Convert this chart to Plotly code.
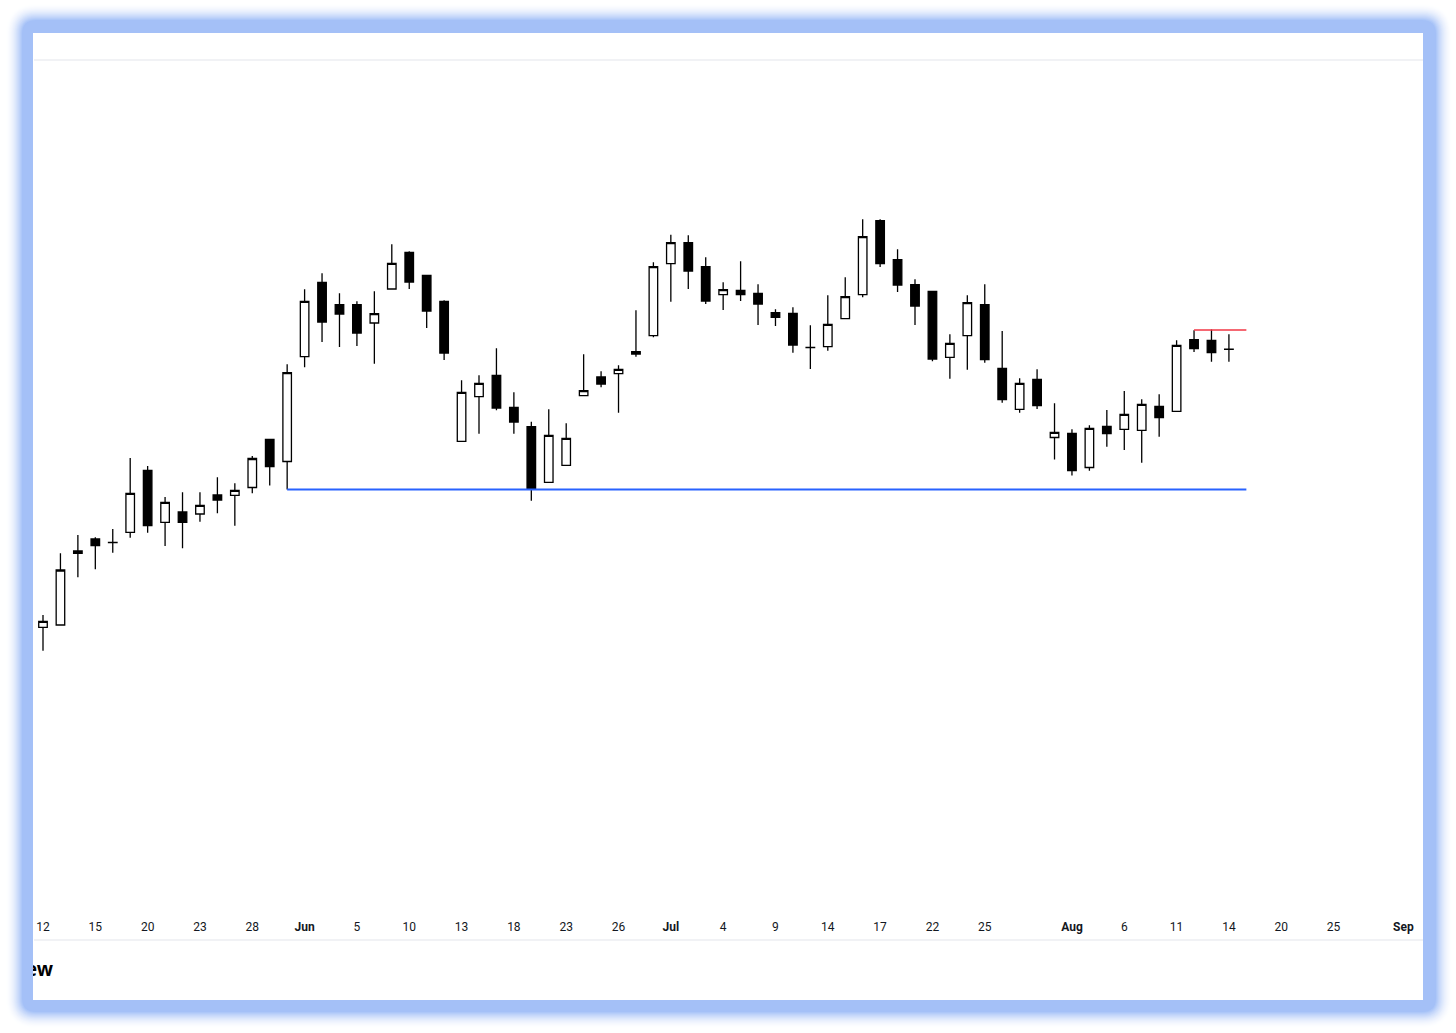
import plotly.graph_objects as go

W, H = 1456, 1033

# ---------------- data ----------------
opens = [37.27, 37.50, 44.67, 46.10, 45.73, 46.77, 52.97, 47.77, 48.80, 48.60,
         50.50, 50.47, 51.25, 56.07, 53.85, 64.33, 71.77, 69.53, 69.53, 67.70,
         71.10, 74.77, 72.47, 69.87, 55.87, 60.33, 62.47, 59.27, 57.33, 51.77,
         53.47, 60.43, 62.30, 62.63, 64.83, 66.43, 73.63, 75.73, 73.33, 70.53,
         70.97, 70.67, 68.73, 68.67, 65.23, 65.33, 68.13, 70.53, 77.93, 74.03,
         71.53, 70.87, 64.27, 66.43, 69.53, 63.17, 59.07, 62.07, 56.25, 56.67,
         53.25, 57.37, 57.07, 56.97, 59.37, 58.87, 66.03, 65.97, 65.07]
highs = [38.50, 44.67, 46.50, 46.27, 47.10, 54.20, 53.40, 50.30, 50.77, 50.77,
         52.27, 51.67, 54.40, 56.10, 63.57, 71.07, 72.67, 70.67, 69.87, 70.87,
         75.57, 74.87, 72.47, 69.97, 61.97, 62.47, 65.17, 60.77, 57.83, 59.07,
         57.67, 64.57, 62.87, 63.47, 68.97, 73.77, 76.53, 76.47, 74.27, 71.77,
         73.87, 71.57, 69.07, 69.27, 67.47, 70.47, 72.27, 78.07, 78.07, 75.07,
         72.07, 70.87, 66.57, 70.47, 71.57, 66.90, 62.17, 63.07, 59.68, 57.08,
         57.48, 59.00, 60.90, 60.07, 60.57, 65.97, 66.97, 67.05, 66.57]
lows = [34.93, 37.50, 42.27, 43.07, 44.73, 46.23, 46.73, 45.40, 45.17, 47.83,
        48.67, 47.43, 50.67, 51.45, 51.05, 63.27, 65.80, 65.30, 65.40, 63.63,
        71.10, 71.10, 67.20, 64.00, 55.87, 56.63, 58.97, 56.63, 49.93, 51.77,
        53.47, 60.37, 61.27, 58.73, 64.33, 66.27, 69.83, 71.10, 69.60, 69.00,
        69.90, 67.50, 67.40, 64.73, 63.10, 64.93, 68.13, 70.27, 73.30, 70.80,
        67.50, 63.87, 62.13, 63.03, 63.73, 59.73, 58.73, 59.10, 54.05, 52.45,
        52.93, 55.33, 55.00, 53.73, 56.33, 58.87, 64.80, 63.83, 63.83]
closes = [37.87, 43.00, 44.90, 45.43, 45.75, 50.67, 47.43, 49.77, 47.77, 49.47,
          50.00, 50.97, 54.15, 53.33, 62.73, 69.87, 67.80, 68.60, 66.70, 68.63,
          73.67, 71.80, 68.90, 64.70, 60.77, 61.67, 59.20, 57.80, 51.07, 56.47,
          56.17, 60.93, 61.60, 63.07, 64.60, 73.33, 75.73, 72.90, 69.90, 71.03,
          70.53, 69.60, 68.27, 65.50, 65.25, 67.57, 70.33, 76.33, 73.63, 71.50,
          69.40, 64.10, 65.67, 69.73, 64.03, 60.03, 61.67, 59.43, 56.77, 52.93,
          57.17, 56.63, 58.57, 59.57, 58.23, 65.47, 65.13, 64.73, 65.09]
bar_index = list(range(len(opens)))

tick_index = [0, 3, 6, 9, 12, 15, 18, 21, 24, 27, 30, 33, 36, 39, 42, 45, 48,
              51, 54, 59, 62, 65, 68, 71, 74, 78]
tick_text = ["12", "15", "20", "23", "28", "<b>Jun</b>", "5", "10", "13", "18",
             "23", "26", "<b>Jul</b>", "4", "9", "14", "17", "22", "25",
             "<b>Aug</b>", "6", "11", "14", "20", "25", "<b>Sep</b>"]

support_level = 51.05
support_from, support_to = 14, 69
resistance_level = 67.0
resistance_from, resistance_to = 66, 69

brand_text = "TradingView"

# ---------------- helpers (layout only) ----------------
def fx(x):
    return x / W

def fy(y):
    return 1 - y / H

def rounded_path(x0, y0, x1, y1, r):
    def P(x, y):
        return f"{fx(x):.6f},{fy(y):.6f}"
    return (f"M {P(x0 + r, y0)} L {P(x1 - r, y0)} Q {P(x1, y0)} {P(x1, y0 + r)} "
            f"L {P(x1, y1 - r)} Q {P(x1, y1)} {P(x1 - r, y1)} "
            f"L {P(x0 + r, y1)} Q {P(x0, y1)} {P(x0, y1 - r)} "
            f"L {P(x0, y0 + r)} Q {P(x0, y0)} {P(x0 + r, y0)} Z")

BLUE = (164, 192, 247)

def mix(t):
    return "rgb(%d,%d,%d)" % tuple(round(255 + (c - 255) * t) for c in BLUE)

shapes = []
# soft glow
steps = 16
for k in range(steps, 0, -1):
    t = (1 - k / (steps + 1)) ** 1.8
    shapes.append(dict(type="path", xref="paper", yref="paper", layer="below",
                       path=rounded_path(22 - k, 20 - k, 1436 + k, 1012 + k, 14 + k),
                       fillcolor=mix(t), line=dict(width=0)))
# solid band
shapes.append(dict(type="path", xref="paper", yref="paper", layer="below",
                   path=rounded_path(22, 20, 1436, 1012, 14),
                   fillcolor=mix(1), line=dict(width=0)))
# white panel
shapes.append(dict(type="rect", xref="paper", yref="paper", layer="below",
                   x0=fx(33), x1=fx(1423), y0=fy(1000), y1=fy(33),
                   fillcolor="white", line=dict(width=0)))
# separators
for yy in (60, 940):
    shapes.append(dict(type="line", xref="paper", yref="paper", layer="below",
                       x0=fx(34), x1=fx(1423), y0=fy(yy), y1=fy(yy),
                       line=dict(color="#eceef2", width=1.5)))

fig = go.Figure()
fig.add_trace(go.Candlestick(
    x=bar_index, open=opens, high=highs, low=lows, close=closes,
    increasing=dict(line=dict(color="black", width=1.3), fillcolor="white"),
    decreasing=dict(line=dict(color="black", width=1.3), fillcolor="black"),
    whiskerwidth=0, showlegend=False, hoverinfo="skip"))

fig.add_trace(go.Scatter(x=[support_from, support_to], y=[support_level, support_level],
                         mode="lines", line=dict(color="#2962ff", width=2.2),
                         showlegend=False, hoverinfo="skip"))
fig.add_trace(go.Scatter(x=[resistance_from, resistance_to],
                         y=[resistance_level, resistance_level],
                         mode="lines", line=dict(color="#f23645", width=1.6),
                         showlegend=False, hoverinfo="skip"))

# brand text at the bottom-left, clipped by the panel edge as in the reference
fig.add_trace(go.Scatter(x=[53], y=[971], mode="text", text=[f"<b>{brand_text}</b>"],
                         textposition="middle left",
                         textfont=dict(family="Noto Sans", size=19, color="black"),
                         xaxis="x2", yaxis="y2", cliponaxis=True,
                         showlegend=False, hoverinfo="skip"))

px_per_bar = 17.44
x_first = 43
x_lo = (33 - x_first) / px_per_bar
x_hi = (1423 - x_first) / px_per_bar
y_top_px, y_bot_px = 61, 918
price = lambda ypx: (1000 - ypx) / 10

fig.update_layout(
    width=W, height=H,
    margin=dict(l=0, r=0, t=0, b=0, pad=0),
    paper_bgcolor="white", plot_bgcolor="rgba(0,0,0,0)",
    shapes=shapes,
    showlegend=False,
    xaxis=dict(domain=[fx(33), fx(1423)], range=[x_lo, x_hi],
               showgrid=False, zeroline=False, showline=False,
               tickmode="array", tickvals=tick_index, ticktext=tick_text,
               ticks="", tickfont=dict(family="Roboto", size=12, color="#131722"),
               rangeslider=dict(visible=False), fixedrange=True),
    yaxis=dict(domain=[fy(y_bot_px), fy(y_top_px)],
               range=[price(y_bot_px), price(y_top_px)],
               showgrid=False, zeroline=False, showline=False,
               showticklabels=False, ticks="", fixedrange=True),
    xaxis2=dict(domain=[fx(33), fx(300)], range=[33, 300], visible=False,
                anchor="y2", fixedrange=True),
    yaxis2=dict(domain=[fy(1000), fy(941)], range=[1000, 941], visible=False,
                anchor="x2", fixedrange=True),
)

fig.write_html("out.html", config={"displayModeBar": False},
               post_script="document.body.style.margin='0';document.body.style.overflow='hidden';")
